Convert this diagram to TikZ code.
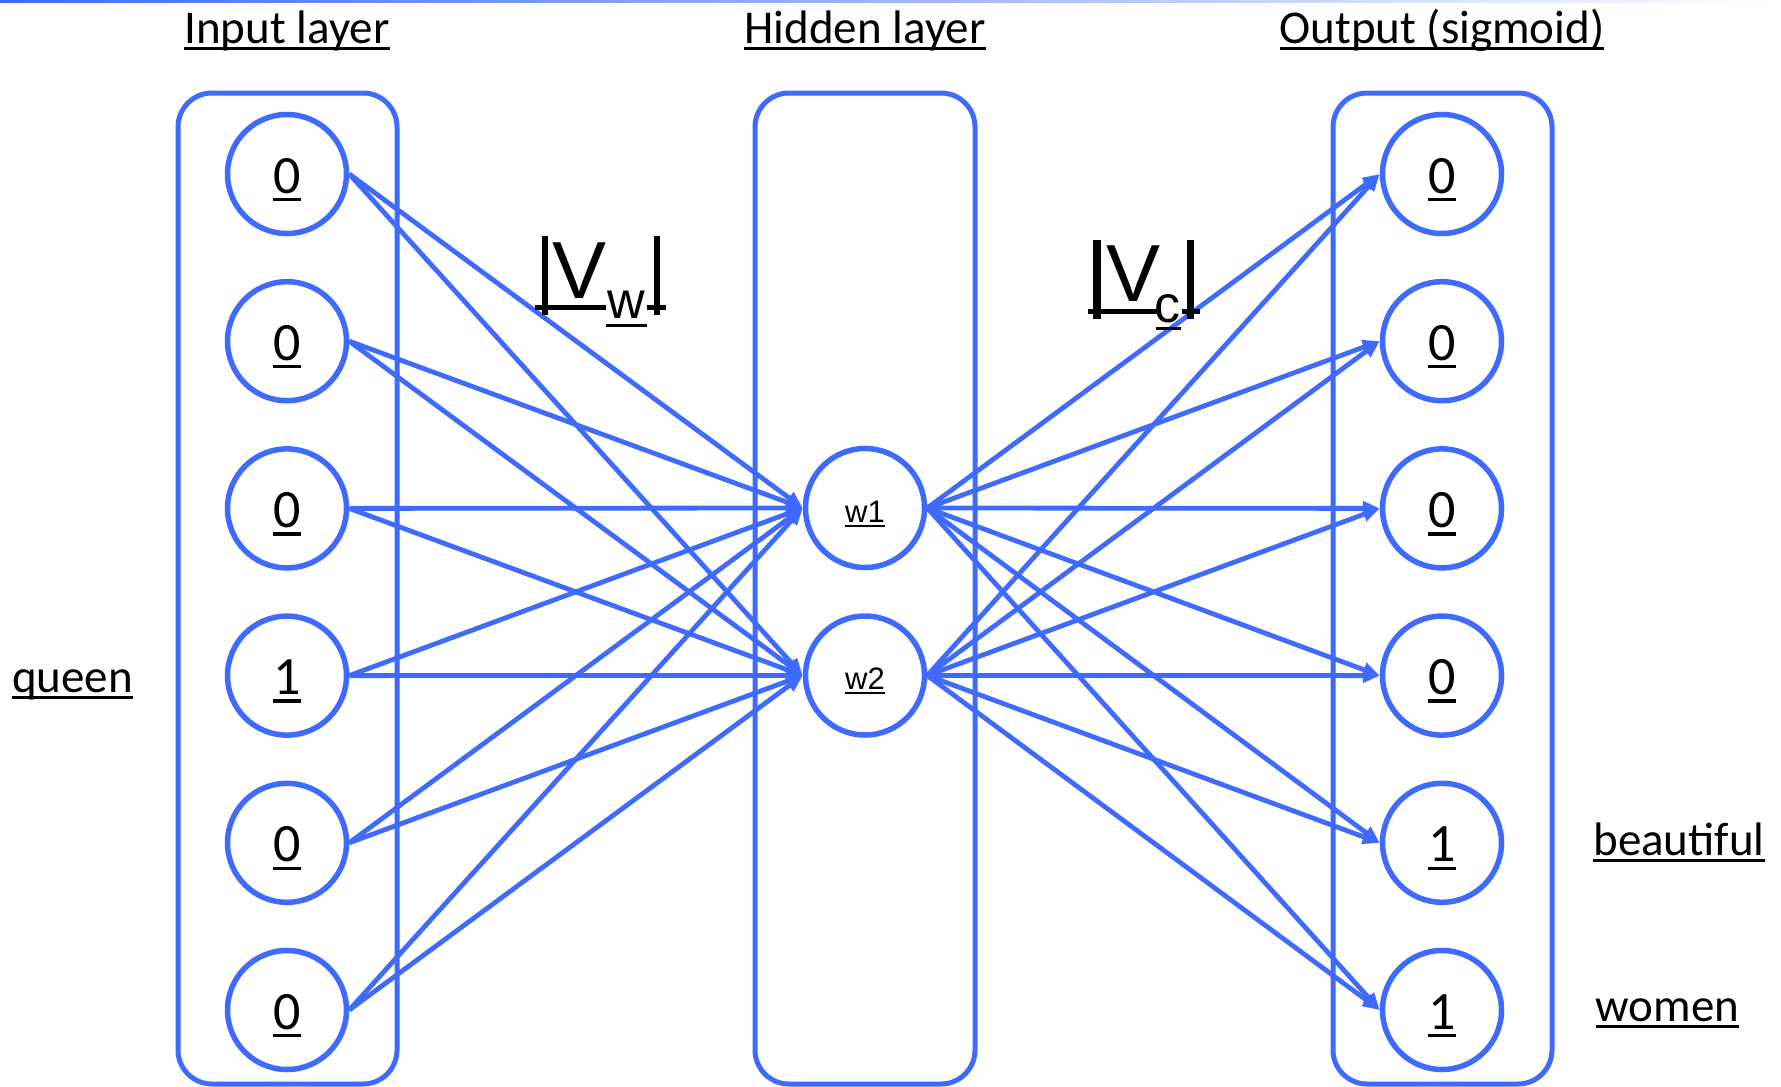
\documentclass[tikz,border=0pt]{standalone}
\usepackage{fontspec}
\setmainfont{Carlito}
\newfontfamily\arialf{Liberation Sans}
\usetikzlibrary{arrows.meta}
\definecolor{netblue}{RGB}{63,106,255}
% underline at a fixed offset below the baseline, taking no depth
\newcommand\undl[1]{\setbox0=\hbox{#1}\leavevmode\rlap{\smash{\rule[-0.15em]{\wd0}{0.06em}}}\box0}

\begin{document}
\begin{tikzpicture}[x=1pt,y=-1pt,
  layerbox/.style={draw=netblue, line width=5pt, rounded corners=34pt},
  unit/.style={circle, draw=netblue, line width=5.5pt, fill=white,
    minimum size=119pt, inner sep=0pt, text height=38pt, text depth=0pt,
    font=\fontsize{54}{60}\selectfont},
  hunit/.style={unit, text height=28pt, font=\arialf\fontsize{31}{36}\selectfont},
  title/.style={anchor=base, inner sep=0pt, font=\fontsize{47}{56}\selectfont},
  wire/.style={draw=netblue, line width=4.8pt, -{Triangle[length=17pt,width=14pt]}},
  bigV/.style={anchor=base, inner sep=0pt, font=\arialf\fontsize{81}{90}\selectfont},
  subV/.style={anchor=base, inner sep=0pt, font=\arialf\fontsize{52}{60}\selectfont}]
\useasboundingbox (0,0) rectangle (1781,1087);
\fill[white] (0,0) rectangle (1781,1087);

% thin rule along the top edge
\shade[left color=netblue, right color=white] (0,0) rectangle (1781,2.5);

% layer frames
\draw[layerbox] (178,93) rectangle (397,1084);
\draw[layerbox] (755,93) rectangle (975,1084);
\draw[layerbox] (1333,93) rectangle (1552,1084);

% layer titles
\node[title] (tin)  at (287,43)  {\undl{Input layer}};
\node[title] (thid) at (865,43)  {\undl{Hidden layer}};
\node[title] (tout) at (1442,43) {\undl{Output (sigmoid)}};

% units
\foreach \v [count=\i] in {0,0,0,1,0,0}
  \node[unit] (in\i) at (287,{174+167.2*(\i-1)}) {\undl{\v}};
\foreach \v [count=\i] in {0,0,0,0,1,1}
  \node[unit] (out\i) at (1442,{174+167.2*(\i-1)}) {\undl{\v}};
\node[hunit] (h1) at (865,508)   {\undl{w1}};
\node[hunit] (h2) at (865,675.5) {\undl{w2}};

% connections
\foreach \i in {1,...,6}
  \foreach \j in {1,2} {
    \draw[wire] (in\i.east) -- (h\j.west);
    \draw[wire] (h\j.east) -- (out\i.west);
  }

% word labels
\node[title] (wq) at (72.5,692)  {\undl{queen}};
\node[title] (wb) at (1679,855)  {\undl{beautiful}};
\node[title] (ww) at (1667.5,1021) {\undl{women}};

% |V_w|
\fill (542,236) rectangle (548,315);
\node[bigV] (vw)  at (579.5,298) {V};
\node[subV] (vws) at (626.5,318) {w};
\fill (535,304.5) rectangle (606,309.5);
\fill (606,323.5) rectangle (647,326.5);
\fill (647,304.5) rectangle (666,309.5);
\fill (654,236) rectangle (660,315);

% |V_c|
\fill (1093,240) rectangle (1101,319);
\node[bigV] (vc)  at (1133.5,301) {V};
\node[subV] (vcs) at (1167.5,322) {c};
\fill (1088,308.5) rectangle (1157,313.5);
\fill (1156,326.5) rectangle (1181,329.5);
\fill (1182,308.5) rectangle (1200,313.5);
\fill (1187,240) rectangle (1194,319);
\end{tikzpicture}
\end{document}
